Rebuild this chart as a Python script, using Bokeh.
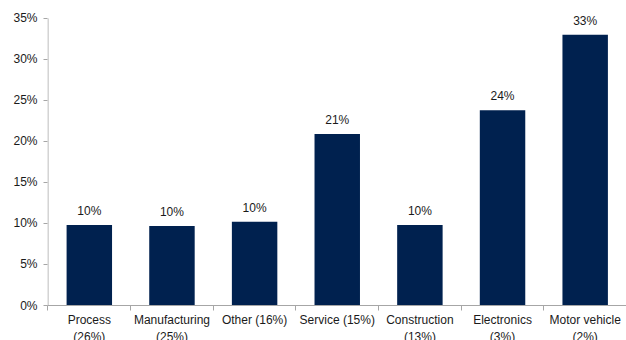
from bokeh.plotting import figure
from bokeh.layouts import column
from bokeh.models import ColumnDataSource, FixedTicker, Range1d, LabelSet
from bokeh.core.properties import value
from bokeh.embed import file_html
from bokeh.resources import INLINE

categories = ["Process\n(26%)", "Manufacturing\n(25%)", "Other (16%)", "Service (15%)",
              "Construction\n(13%)", "Electronics\n(3%)", "Motor vehicle\n(2%)"]
values = [9.8, 9.7, 10.2, 20.9, 9.8, 23.8, 33.0]
y_ticks = [0, 5, 10, 15, 20, 25, 30, 35]

FONT = "Liberation Sans"
FS = "12px"
BAR = "#00214F"
AXIS = "#A6A6A6"
TXT = "#1a1a1a"

xs = [i + 0.5 for i in range(len(categories))]
labels = [f"{round(v):.0f}%" for v in values]
src = ColumnDataSource(dict(x=xs, top=values, lab=labels))

p = figure(width=626, height=312, output_backend="svg", toolbar_location=None,
           x_range=Range1d(-0.006, 7), y_range=Range1d(0, 35.6),
           min_border_left=47, min_border_right=0, min_border_top=13, min_border_bottom=7)
p.outline_line_color = None
p.grid.visible = False

# vertical axis line from 0% to 35%
p.segment(x0=[0], y0=[y_ticks[0]], x1=[0], y1=[y_ticks[-1]], line_color=AXIS, line_width=1)

p.vbar(x="x", top="top", width=0.55, bottom=0, source=src, fill_color=BAR, line_color=None)
p.add_layout(LabelSet(x="x", y="top", text="lab", source=src, text_align="center",
                      text_baseline="alphabetic", y_offset=10, text_font=value(FONT),
                      text_font_size=FS, text_color=TXT))

xa = p.xaxis[0]
xa.ticker = FixedTicker(ticks=[], minor_ticks=list(range(0, 8)))
xa.major_label_text_font_size = "0px"
xa.major_tick_line_color = None
xa.major_tick_out = 5
xa.minor_tick_line_color = AXIS
xa.minor_tick_out = 5
xa.minor_tick_in = 0
xa.axis_line_color = AXIS
xa.major_label_standoff = 0

ya = p.yaxis[0]
ya.ticker = FixedTicker(ticks=y_ticks)
ya.major_label_overrides = {t: f"{t}%" for t in y_ticks}
ya.axis_line_color = None
ya.major_tick_line_color = AXIS
ya.major_tick_out = 4
ya.major_tick_in = 0
ya.minor_tick_line_color = None
ya.major_label_text_font = FONT
ya.major_label_text_font_size = FS
ya.major_label_text_color = TXT
ya.major_label_standoff = 6

# category labels row, sharing the x scale
p2 = figure(width=626, height=28, output_backend="svg", toolbar_location=None,
            x_range=p.x_range, y_range=Range1d(0, 1), x_axis_type=None, y_axis_type=None,
            min_border_left=47, min_border_right=0, min_border_top=0, min_border_bottom=0)
p2.outline_line_color = None
p2.grid.visible = False
src2 = ColumnDataSource(dict(x=xs, y=[1] * len(xs), t=categories))
p2.text(x="x", y="y", text="t", source=src2, text_align="center", text_baseline="top",
        y_offset=0, text_font=value(FONT), text_font_size=FS, text_color=TXT,
        text_line_height=1.22)

open("out.html", "w").write(file_html(column(p, p2), INLINE))
